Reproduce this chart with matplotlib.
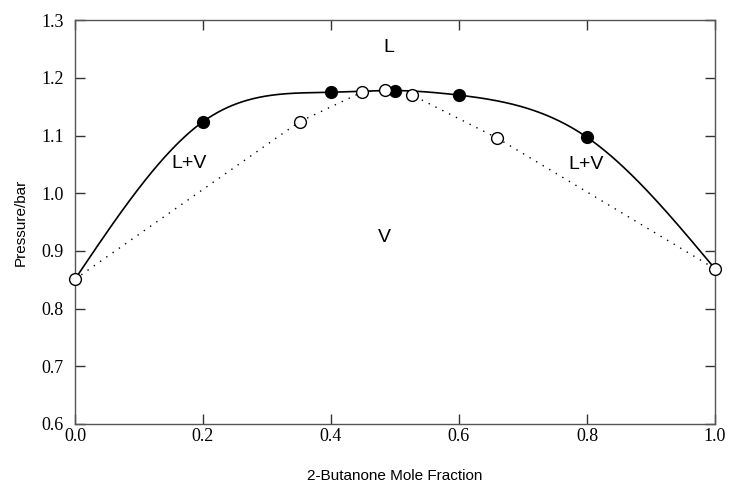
import numpy as np
import matplotlib.pyplot as plt

# liquid (bubble) points - filled
x_liq = [0.0, 0.2, 0.4, 0.5, 0.6, 0.8, 1.0]
p_liq = [0.851, 1.124, 1.175, 1.178, 1.170, 1.097, 0.869]
# vapour (dew) points - open
x_vap = [0.0, 0.351, 0.448, 0.485, 0.527, 0.659, 1.0]
p_vap = [0.851, 1.124, 1.175, 1.179, 1.170, 1.096, 0.869]

region_labels = ["L", "L+V", "V", "L+V"]
region_x = [0.49, 0.178, 0.483, 0.799]
region_y = [1.253, 1.052, 0.924, 1.049]


def natural_spline(x, y, xs):
    x = np.asarray(x, float)
    y = np.asarray(y, float)
    n = len(x)
    h = np.diff(x)
    A = np.zeros((n, n))
    b = np.zeros(n)
    A[0, 0] = A[-1, -1] = 1
    for i in range(1, n - 1):
        A[i, i - 1] = h[i - 1]
        A[i, i] = 2 * (h[i - 1] + h[i])
        A[i, i + 1] = h[i]
        b[i] = 6 * ((y[i + 1] - y[i]) / h[i] - (y[i] - y[i - 1]) / h[i - 1])
    M = np.linalg.solve(A, b)
    idx = np.clip(np.searchsorted(x, xs) - 1, 0, n - 2)
    t0 = x[idx + 1] - xs
    t1 = xs - x[idx]
    hh = h[idx]
    return (M[idx] * t0**3 / (6 * hh) + M[idx + 1] * t1**3 / (6 * hh)
            + (y[idx] / hh - M[idx] * hh / 6) * t0
            + (y[idx + 1] / hh - M[idx + 1] * hh / 6) * t1)


fig = plt.figure(figsize=(7.31, 4.91), dpi=100)
ax = fig.add_axes([0.1026, 0.1365, 0.8755, 0.8225])

xs = np.linspace(0, 1, 400)
ax.plot(xs, natural_spline(x_liq, p_liq, xs), color='black', lw=1.2, zorder=2)
ax.plot(x_vap, p_vap, color='black', lw=1.0, linestyle=(0, (1, 4.5)), zorder=2)

ax.plot(x_liq[1:-1], p_liq[1:-1], 'o', ms=8.5, mfc='black', mec='black', zorder=3)
ax.plot(x_vap, p_vap, 'o', ms=8.5, mfc='white', mec='black', mew=1.0, zorder=4,
        clip_on=False)

for lab, lx, ly in zip(region_labels, region_x, region_y):
    ax.text(lx, ly, lab, ha='center', va='center', fontsize=14,
            family='Liberation Sans')

ax.set_xlim(0, 1)
ax.set_ylim(0.6, 1.3)
ax.set_xticks(np.arange(0, 1.01, 0.2))
ax.set_yticks(np.arange(0.6, 1.31, 0.1))
ax.set_xticklabels(["%.1f" % v for v in np.arange(0, 1.01, 0.2)])
ax.set_yticklabels(["%.1f" % v for v in np.arange(0.6, 1.31, 0.1)])
ax.tick_params(direction='in', top=True, right=True, length=7, width=1,
               labelsize=13, color='#333333')
ax.tick_params(axis='x', pad=3)
ax.tick_params(axis='y', pad=8)
for lbl in ax.get_xticklabels() + ax.get_yticklabels():
    lbl.set_family('Liberation Serif')
for sp in ax.spines.values():
    sp.set_color('#555555')
    sp.set_linewidth(1.0)

ax.set_xlabel("2-Butanone Mole Fraction", fontsize=11, family='Liberation Sans',
              labelpad=17)
ax.set_ylabel("Pressure/bar", fontsize=11, family='Liberation Sans', labelpad=10)

fig.savefig("out.png", dpi=100)
